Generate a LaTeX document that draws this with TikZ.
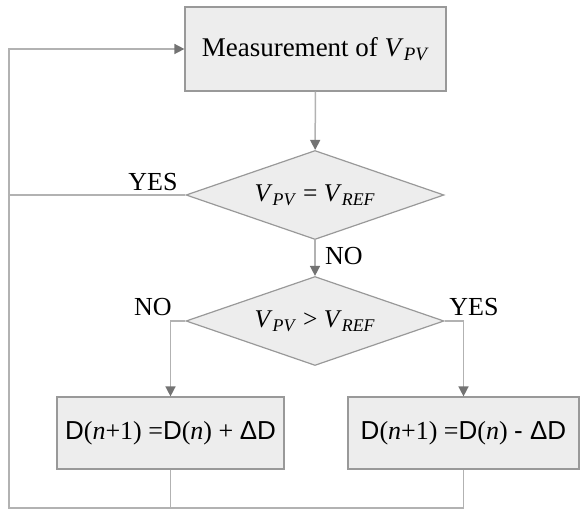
\documentclass[tikz,border=0pt]{standalone}
\usepackage{fontspec}
\setmainfont{Liberation Serif}
\newfontfamily\dfont{Liberation Sans}
\usetikzlibrary{shapes.geometric,arrows.meta}
\newcommand\volt[1]{\textit{V}\textsubscript{\textit{#1}}}
\newcommand\Dd{{\dfont D}}
\colorlet{box edge}{black!40}
\colorlet{box area}{black!7}
\colorlet{flow line}{black!30}
\tikzset{procbox/.style={rectangle, draw=box edge, fill=box area, line width=1.2pt},
    decision/.style={diamond, aspect=2.9, draw=box edge, fill=box area, line width=1.2pt,
        inner sep=0pt, minimum width=258pt, minimum height=89pt},
    flow/.style={draw=flow line, line width=1.5pt},
    tip/.style={-{Triangle[width=10pt,length=10pt,color=black!55]}},
    answer/.style={font=\fontsize{26}{30}\selectfont}}

\begin{document}
\begin{tikzpicture}[x=1pt, y=-1pt, font=\fontsize{25.5}{29}\selectfont]
     \useasboundingbox (0,0) rectangle (581,510);
     % blocks
     \node[procbox, minimum width=261pt, minimum height=84pt] (meas) at (315.5,49)
         {\fontsize{27}{30}\selectfont Measurement of \volt{PV}};
     \node[decision] (equal) at (315,195) {\volt{PV} = \volt{REF}};
     \node[decision] (greater) at (315,321) {\volt{PV} > \volt{REF}};
     \node[procbox, minimum width=227pt, minimum height=72pt] (incr) at (170.5,433)
         {\fontsize{26}{30}\selectfont \Dd(\textit{n}+1) =\Dd(\textit{n}) + {\dfont ΔD}};
     \node[procbox, minimum width=231pt, minimum height=72pt] (decr) at (463.5,433)
         {\fontsize{26}{30}\selectfont \Dd(\textit{n}+1) =\Dd(\textit{n}) {\dfont - ΔD}};
     \coordinate (left) at (9,0);
     \coordinate (bottom) at (0,508);
     % connectors
     \draw[flow, tip] (meas) -- (equal);
     \draw[flow, tip] (equal) -- (greater) node[answer, pos=0.45, right=6pt] {NO};
     \draw[flow, tip] (greater.west) -| (incr.north);
     \draw[flow, tip] (greater.east) -| (decr.north);
     \draw[flow] (equal.west) -- (left |- equal.west);
     \draw[flow] (incr.south) -- (incr.south |- bottom);
     \draw[flow, tip] (decr.south) |- (left |- bottom) -- (left |- meas.west) -- (meas.west);
     % labels
     \node[answer] (yes1) at (153,182) {YES};
     \node[answer] (no2) at (153,307) {NO};
     \node[answer] (yes2) at (474,307) {YES};
 \end{tikzpicture}
\end{document}
